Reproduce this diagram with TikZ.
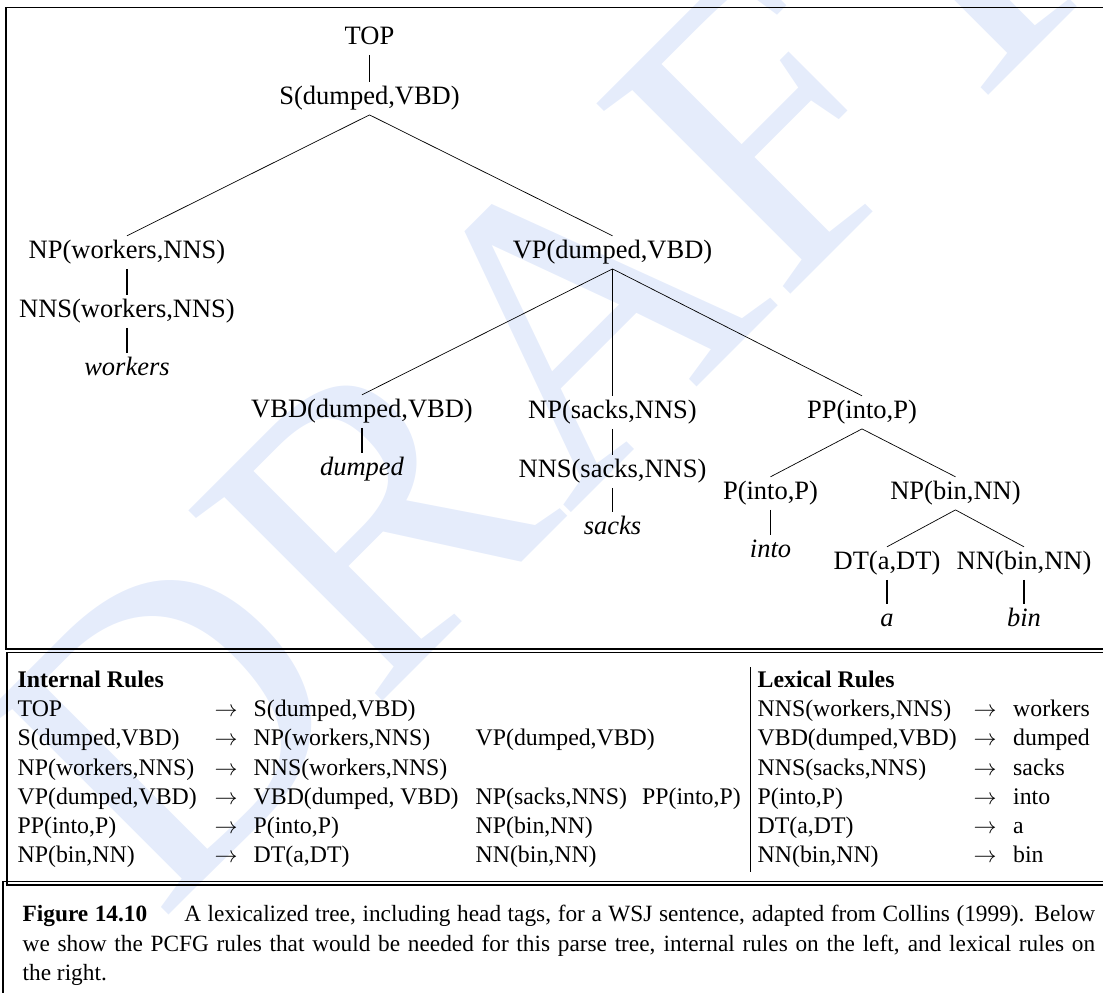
\documentclass[tikz,border=0pt]{standalone}
\usepackage{fontspec}
\setmainfont{Liberation Serif}
\usepackage{graphicx}
\definecolor{wmblue}{RGB}{229,236,251}
\newcommand{\myarr}{\resizebox{23pt}{!}{$\rightarrow$}}
\tikzset{
  tn/.style={font=\fontsize{26.5}{30}\selectfont, inner xsep=0pt, inner ysep=3.5pt,
             text height=18.5pt, text depth=7.2pt, anchor=base},
  tw/.style={tn, font=\fontsize{26.5}{30}\selectfont\itshape},
  br/.style={line width=0.7pt},
  un/.style={line width=1.5pt},
  frame/.style={line width=1.6pt},
  rt/.style={font=\fontsize{23.8}{28}\selectfont, anchor=base west, inner sep=0pt},
  ra/.style={font=\fontsize{23.8}{28}\selectfont, anchor=base, inner sep=0pt},
  captxt/.style={font=\fontsize{23.3}{29}\selectfont, anchor=base west, inner sep=0pt},
}
\begin{document}
\begin{tikzpicture}[x=1pt,y=-1pt]
\useasboundingbox (0,0) rectangle (1103,993);
\clip (0,0) rectangle (1103,993);
% watermark
\node[rotate=45, text=wmblue, inner sep=0pt, font=\fontsize{415}{415}\selectfont] (wm) at (545,346) {DRAFT};
% frames
\draw[frame] (1110,7.5) -- (6,7.5) -- (6,649) -- (1110,649);
\draw[frame] (1110,652.5) -- (7,652.5) -- (7,885) -- (1110,885);
\draw[frame] (1110,881.5) -- (3,881.5) -- (3,1000);
% tree
\node[tn] (top) at (369.5,44) {TOP};
\node[tn] (s) at (369.5,104) {S(dumped,VBD)};
\node[tn] (npw) at (127,258) {NP(workers,NNS)};
\node[tn] (nnsw) at (127,317) {NNS(workers,NNS)};
\node[tw] (w) at (127,375) {workers};
\node[tn] (vp) at (612.5,258) {VP(dumped,VBD)};
\node[tn] (vbd) at (362,417) {VBD(dumped,VBD)};
\node[tw] (d) at (362,475) {dumped};
\node[tn] (nps) at (612.5,418) {NP(sacks,NNS)};
\node[tn] (nnss) at (612.5,477) {NNS(sacks,NNS)};
\node[tw] (sk) at (612.5,534) {sacks};
\node[tn] (pp) at (862,418) {PP(into,P)};
\node[tn] (p) at (770.5,499) {P(into,P)};
\node[tw] (in) at (770.5,557) {into};
\node[tn] (npb) at (955.5,499) {NP(bin,NN)};
\node[tn] (dt) at (887,569) {DT(a,DT)};
\node[tn] (nn) at (1024,569) {NN(bin,NN)};
\node[tw] (a) at (887,626) {a};
\node[tw] (b) at (1024,626) {bin};
\draw[un] (top.south) -- (s.north);
\draw[br] (s.south) -- (npw.north);
\draw[br] (s.south) -- (vp.north);
\draw[un] (npw.south) -- (nnsw.north);
\draw[un] (nnsw.south) -- (w.north);
\draw[br] (vp.south) -- (vbd.north);
\draw[un] (vp.south) -- (nps.north);
\draw[br] (vp.south) -- (pp.north);
\draw[un] (vbd.south) -- (d.north);
\draw[un] (nps.south) -- (nnss.north);
\draw[un] (nnss.south) -- (sk.north);
\draw[br] (pp.south) -- (p.north);
\draw[br] (pp.south) -- (npb.north);
\draw[un] (p.south) -- (in.north);
\draw[br] (npb.south) -- (dt.north);
\draw[br] (npb.south) -- (nn.north);
\draw[un] (dt.south) -- (a.north);
\draw[un] (nn.south) -- (b.north);
% rules
\node[rt] (ih) at (17.5,687.5) {\textbf{Internal Rules}};
\node[rt] (i1a) at (17.5,716.5) {TOP};
\node[ra] (i1b) at (226,716.5) {\myarr};
\node[rt] (i1c) at (253.5,716.5) {S(dumped,VBD)};
\node[rt] (i2a) at (17.5,745.5) {S(dumped,VBD)};
\node[ra] (i2b) at (226,745.5) {\myarr};
\node[rt] (i2c) at (253.5,745.5) {NP(workers,NNS)};
\node[rt] (i2d) at (475.5,745.5) {VP(dumped,VBD)};
\node[rt] (i3a) at (17.5,775) {NP(workers,NNS)};
\node[ra] (i3b) at (226,775) {\myarr};
\node[rt] (i3c) at (253.5,775) {NNS(workers,NNS)};
\node[rt] (i4a) at (17.5,804.5) {VP(dumped,VBD)};
\node[ra] (i4b) at (226,804.5) {\myarr};
\node[rt] (i4c) at (253.5,804.5) {VBD(dumped, VBD)};
\node[rt] (i4d) at (475.5,804.5) {NP(sacks,NNS)};
\node[rt] (i4e) at (642,804.5) {PP(into,P)};
\node[rt] (i5a) at (17.5,833.5) {PP(into,P)};
\node[ra] (i5b) at (226,833.5) {\myarr};
\node[rt] (i5c) at (253.5,833.5) {P(into,P)};
\node[rt] (i5d) at (475.5,833.5) {NP(bin,NN)};
\node[rt] (i6a) at (17.5,862.5) {NP(bin,NN)};
\node[ra] (i6b) at (226,862.5) {\myarr};
\node[rt] (i6c) at (253.5,862.5) {DT(a,DT)};
\node[rt] (i6d) at (475.5,862.5) {NN(bin,NN)};
\coordinate (sepa) at (750.5,667);
\coordinate (sepb) at (750.5,872);
\draw[line width=1.5pt] (sepa) -- (sepb);
\node[rt] (lh) at (757.5,687.5) {\textbf{Lexical Rules}};
\node[rt] (l1a) at (757.5,716.5) {NNS(workers,NNS)};
\node[ra] (l1b) at (985,716.5) {\myarr};
\node[rt] (l1c) at (1013,716.5) {workers};
\node[rt] (l2a) at (757.5,745.5) {VBD(dumped,VBD)};
\node[ra] (l2b) at (985,745.5) {\myarr};
\node[rt] (l2c) at (1013,745.5) {dumped};
\node[rt] (l3a) at (757.5,775) {NNS(sacks,NNS)};
\node[ra] (l3b) at (985,775) {\myarr};
\node[rt] (l3c) at (1013,775) {sacks};
\node[rt] (l4a) at (757.5,804.5) {P(into,P)};
\node[ra] (l4b) at (985,804.5) {\myarr};
\node[rt] (l4c) at (1013,804.5) {into};
\node[rt] (l5a) at (757.5,833.5) {DT(a,DT)};
\node[ra] (l5b) at (985,833.5) {\myarr};
\node[rt] (l5c) at (1013,833.5) {a};
\node[rt] (l6a) at (757.5,862.5) {NN(bin,NN)};
\node[ra] (l6b) at (985,862.5) {\myarr};
\node[rt] (l6c) at (1013,862.5) {bin};
% caption
\node[captxt] (cap1) at (22.5,921.5) {\makebox[1072.5pt][s]{\textbf{Figure 14.10}\hspace{37pt}A lexicalized tree, including head tags, for a WSJ sentence, adapted from Collins (1999). Below}};
\node[captxt] (cap2) at (22.5,951) {\makebox[1072.5pt][s]{we show the PCFG rules that would be needed for this parse tree, internal rules on the left, and lexical rules on}};
\node[captxt] (cap3) at (22.5,980) {the right.};
\end{tikzpicture}
\end{document}
